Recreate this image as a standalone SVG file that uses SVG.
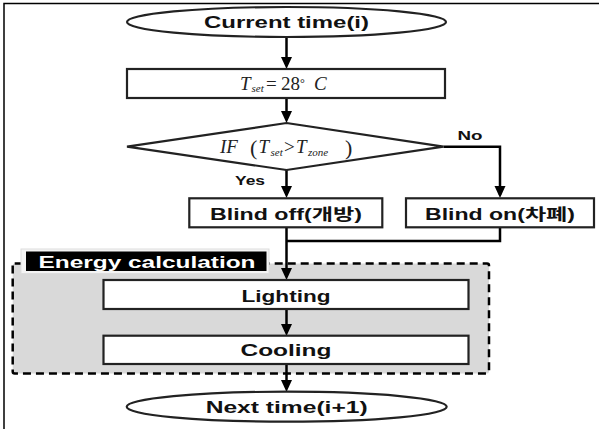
<svg xmlns="http://www.w3.org/2000/svg" width="599" height="429" viewBox="0 0 599 429">
<style>
.t{font-family:"Liberation Sans","Noto Sans CJK KR",sans-serif;font-weight:bold;font-size:16px;fill:#111;text-anchor:middle}
.s{font-size:12px}
.m{font-family:"Liberation Serif",serif;font-style:italic;font-size:19px;fill:#222}
.n{font-style:normal}
.sub{font-size:11px}
.box{fill:#fff;stroke:#222;stroke-width:2.2}
.ln{fill:none;stroke:#000;stroke-width:2.5}
.ar{marker-end:url(#ah)}
</style>
<defs>
<marker id="ah" viewBox="0 0 12 12" refX="9" refY="6" markerWidth="12" markerHeight="12" markerUnits="userSpaceOnUse" orient="auto"><path d="M0,0.5 L12,6 L0,11.5 z" fill="#000"/></marker>
</defs>
<rect x="4" y="3.5" width="600" height="430" fill="#fff" stroke="#000" stroke-width="1.5"/>
<g id="group-energy">
<rect x="12.7" y="263.5" width="476.3" height="110" rx="2" fill="#d9d9d9" stroke="#000" stroke-width="2.5" stroke-dasharray="8,5"/>
<rect x="21" y="249" width="248" height="24.5" fill="#f4f4f4" stroke="#ddd" stroke-width="1"/>
<rect x="26" y="251.5" width="240.5" height="19.5" fill="#000"/>
<text class="t" x="147" y="268" style="fill:#fff" textLength="217" lengthAdjust="spacingAndGlyphs">Energy calculation</text>
</g>
<g id="connectors">
<line class="ln ar" x1="286.5" y1="37" x2="286.5" y2="66"/>
<line class="ln ar" x1="286.5" y1="98" x2="286.5" y2="120"/>
<line class="ln ar" x1="286.5" y1="170" x2="286.5" y2="195"/>
<polyline class="ln ar" points="443.5,146.7 500,146.7 500,195"/>
<line class="ln ar" x1="286.5" y1="227" x2="286.5" y2="277"/>
<polyline class="ln" points="500,227 500,241 286.5,241"/>
<line class="ln ar" x1="286.5" y1="309" x2="286.5" y2="333"/>
<line class="ln ar" x1="286.5" y1="364" x2="286.5" y2="389"/>
<text class="t s" x="250" y="185" textLength="30" lengthAdjust="spacingAndGlyphs">Yes</text>
<text class="t s" x="470" y="139.5" textLength="25" lengthAdjust="spacingAndGlyphs">No</text>
</g>
<g id="start">
<ellipse cx="286.5" cy="22" rx="159.5" ry="15" class="box"/>
<text class="t" x="286.5" y="28" textLength="165" lengthAdjust="spacingAndGlyphs">Current time(i)</text>
</g>
<g id="set">
<rect x="127" y="69" width="318" height="29" class="box"/>
<text class="m" y="89.5"><tspan x="240">T</tspan><tspan class="sub" x="251.5" y="92">set</tspan><tspan class="n" x="266" y="89.5">=</tspan><tspan class="n" x="281">28</tspan><tspan class="n" x="300" y="87" style="font-size:12px">°</tspan><tspan x="314" y="89.5">C</tspan></text>
</g>
<g id="decision">
<polygon points="286.5,123 443.5,146.7 286.5,170 127,146.7" class="box"/>
<text class="m" y="153"><tspan x="220">IF</tspan><tspan class="n" x="250" y="154.5" style="font-size:22px">(</tspan><tspan x="258.5" y="153">T</tspan><tspan class="sub" x="270.5" y="156">set</tspan><tspan class="n" x="284" y="153">&gt;</tspan><tspan x="296">T</tspan><tspan class="sub" x="308" y="156">zone</tspan><tspan class="n" x="345" y="154.5" style="font-size:22px">)</tspan></text>
</g>
<g id="blind-off">
<rect x="189.3" y="198.3" width="193" height="29" class="box"/>
<text class="t" x="286" y="220" textLength="152" lengthAdjust="spacingAndGlyphs">Blind off(개방)</text>
</g>
<g id="blind-on">
<rect x="406" y="198.3" width="188" height="29" class="box"/>
<text class="t" x="500" y="220" textLength="150" lengthAdjust="spacingAndGlyphs">Blind on(차폐)</text>
</g>
<g id="lighting">
<rect x="103.5" y="280" width="365" height="29" class="box"/>
<text class="t" x="286" y="301.5" textLength="89" lengthAdjust="spacingAndGlyphs">Lighting</text>
</g>
<g id="cooling">
<rect x="103.5" y="335.7" width="365" height="28.3" class="box"/>
<text class="t" x="286" y="356" textLength="91" lengthAdjust="spacingAndGlyphs">Cooling</text>
</g>
<g id="end">
<ellipse cx="286.7" cy="406.7" rx="160" ry="15" class="box"/>
<text class="t" x="286.7" y="413" textLength="162" lengthAdjust="spacingAndGlyphs">Next time(i+1)</text>
</g>
</svg>
